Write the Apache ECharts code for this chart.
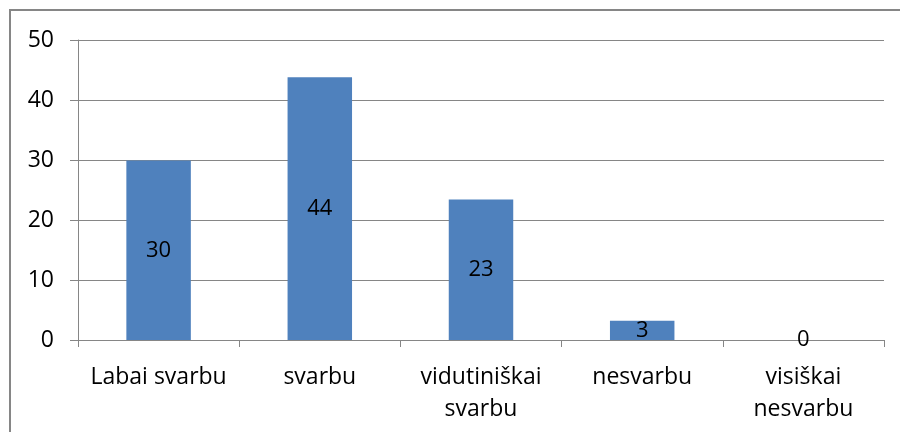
<!doctype html>
<html>
<head>
    <meta http-equiv="Content-Type" content="text/html; charset=utf-8" />
    <title>svarbu</title>
    <script src="https://cdn.jsdelivr.net/npm/echarts@6/dist/echarts.min.js"></script>
    <style>
        html, body { margin: 0; padding: 0; background: #fff; }
        #main { width: 900px; height: 432px; }
    </style>
</head>
<body>
<div id="main"></div>
<script type="text/javascript">
    // kategorijos ir reikšmės
    var kategorijos = ['Labai svarbu', 'svarbu', 'vidutiniškai\nsvarbu', 'nesvarbu', 'visiškai\nnesvarbu'];
    var reiksmes = [29.9, 43.8, 23.4, 3.2, 0];
    var yTicks = [0, 10, 20, 30, 40, 50];

    var sriftas = '"Open Sans", sans-serif';
    var pilka = '#868686';

    var myChart = echarts.init(document.getElementById('main'));

    var option = {
        animation: false,
        textStyle: { fontFamily: sriftas },
        graphic: [{
            type: 'rect',
            shape: { x: 10, y: 10, width: 900, height: 440 },
            style: { fill: null, stroke: pilka, lineWidth: 2 },
            silent: true
        }],
        grid: { left: 78, right: 16, top: 40, bottom: 92 },
        xAxis: {
            type: 'category',
            data: kategorijos,
            axisLine: { lineStyle: { color: pilka, width: 1 } },
            axisTick: { show: true, length: 7, lineStyle: { color: pilka } },
            axisLabel: {
                color: '#000',
                fontSize: 23,
                lineHeight: 32,
                margin: 21,
                interval: 0
            }
        },
        yAxis: {
            type: 'value',
            min: yTicks[0],
            max: yTicks[yTicks.length - 1],
            interval: 10,
            axisLine: { show: true, lineStyle: { color: pilka } },
            axisTick: { show: true, length: 8, lineStyle: { color: pilka } },
            axisLabel: { color: '#000', fontSize: 23, margin: 24 },
            splitLine: { lineStyle: { color: pilka, width: 1 } }
        },
        series: [{
            type: 'bar',
            data: reiksmes,
            barWidth: '40%',
            itemStyle: { color: '#4f81bd' },
            label: {
                show: true,
                position: 'inside',
                color: '#000',
                fontSize: 22,
                formatter: function (p) { return Math.round(p.value); }
            }
        }]
    };
    myChart.setOption(option);
</script>
</body>
</html>
